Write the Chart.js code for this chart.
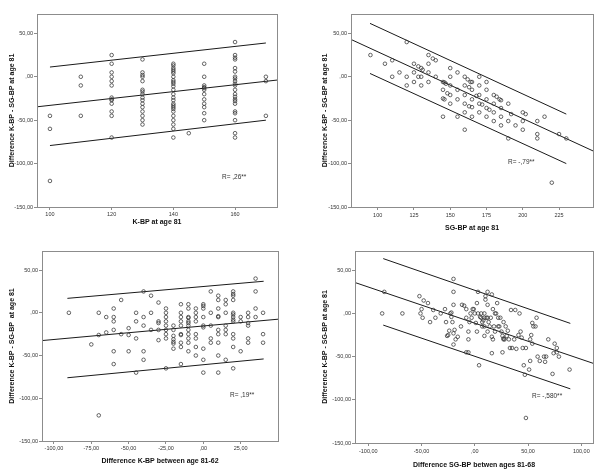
<!DOCTYPE html>
<html>
<head>
<meta charset="utf-8">
<script src="https://cdn.jsdelivr.net/npm/chart.js@4.4.1/dist/chart.umd.min.js"></script>
<style>
  body { margin: 0; background: #fff; }
  #wrap { position: relative; width: 600px; height: 472px; background: #fff; }
  canvas { position: absolute; }
</style>
</head>
<body>
<div id="wrap">
  <canvas id="c1" width="300" height="236" style="left:0;top:0"></canvas>
  <canvas id="c2" width="300" height="236" style="left:300px;top:0"></canvas>
  <canvas id="c3" width="300" height="236" style="left:0;top:236px"></canvas>
  <canvas id="c4" width="300" height="236" style="left:300px;top:236px"></canvas>
</div>
<script>
// Tick values shared by all panels (difference K-BP - SG-BP)
const diffTicks = [-150, -100, -50, 0, 50];

// Panel 1: K-BP at age 81 vs difference
const kbpTicks = [100, 120, 140, 160];
const kbpPoints = [
  [100,-45],[100,-60],[100,-120],
  [110,0],[110,-10],[110,-45],
  [120,25],[120,15],[120,5],[120,0],[120,-5],[120,-10],[120,-24],[120,-26],[120,-27],[120,-31],[120,-40],[120,-45],[120,-70],
  [130,20],[130,5],[130,2],[130,0],[130,-5],[130,-15],[130,-17],[130,-20],[130,-24],[130,-27],[130,-31],[130,-35],[130,-40],[130,-45],[130,-50],[130,-55],
  [140,15],[140,13],[140,10],[140,8],[140,6],[140,4],[140,0],[140,-4],[140,-6],[140,-8],[140,-11],[140,-15],[140,-20],[140,-24],[140,-27],[140,-31],[140,-33],[140,-35],[140,-37],[140,-40],[140,-45],[140,-50],[140,-55],[140,-60],[140,-70],
  [145,-65],
  [150,15],[150,0],[150,-10],[150,-12],[150,-13],[150,-15],[150,-20],[150,-26],[150,-31],[150,-35],[150,-42],[150,-50],
  [160,40],[160,25],[160,22],[160,20],[160,10],[160,6],[160,0],[160,-2],[160,-5],[160,-8],[160,-10],[160,-15],[160,-20],[160,-23],[160,-26],[160,-28],[160,-31],[160,-40],[160,-42],[160,-50],[160,-65],[160,-70],
  [170,0],[170,-5],[170,-45]
];
const kbpFit = [[95.8,-34.6],[173.6,-3.8]];
const kbpUpper = [[100,11.2],[170,38.9]];
const kbpLower = [[100,-79.2],[170,-50]];

// Panel 2: SG-BP at age 81 vs difference
const sgbpTicks = [100, 125, 150, 175, 200, 225];
const sgbpPoints = [
  [95,25],[105,15],[110,19],[120,40],[115,5],[110,0],[120,0],[120,-10],
  [125,15],[125,5],[125,-6],[128,12],[130,10],[131,8],[128,0],[130,0],[130,-10],
  [135,25],[135,15],[135,5],[135,-6],[138,21],[140,19],[140,0],
  [145,-6],[146,-6.5],[147,-8],[145,-15],[145,-25],[146,-26],[145,-46],[148,-19],
  [150,10],[150,0],[150,-10],[150,-21],[150,-31],
  [155,5],[155,-15],[155,-26],[155,-46],
  [160,0],[160,-10],[160,-21],[160,-31],[160,-41],[160,-61],[162,-3],[163,-12],[164,-6],[165,-6],[165,-15],[165,-26],[165,-35],[165,-46],[163,-34],[168,-22],
  [170,0],[170,-10],[170,-21],[170,-31],[170,-41],[172,-32],
  [175,-6],[175,-15],[175,-26],[175,-36],[175,-46],[177,-38],
  [180,-21],[180,-31],[180,-41],[180,-51],[182,-23],[184,-26],[185,-27],[185,-36],[185,-46],[185,-56],
  [190,-31],[190,-51],[190,-71],[192,-43],[195,-56],
  [200,-41],[202,-43],[200,-51],[200,-61],
  [210,-51],[210,-66],[210,-71],[215,-46],[220,-122],[225,-66],[230,-71]
];
const sgbpFit = [[81.6,43],[248.4,-85.4]];
const sgbpUpper = [[94.7,61.5],[230,-43]];
const sgbpLower = [[94.7,3.8],[230,-100]];

// Panel 3: difference K-BP between age 81-62 vs difference
const kbpChangeTicks = [-100, -75, -50, -25, 0, 25];
const kbpChangePoints = [
  [-90,0],[-75,-37],[-70,0],[-70,-26],[-70,-120],[-65,-5],[-65,-23],
  [-60,5],[-60,-5],[-60,-10],[-60,-20],[-60,-45],[-60,-60],[-55,15],[-55,-25],
  [-50,-18],[-50,-26],[-50,-45],[-45,0],[-45,-10],[-45,-30],[-45,-70],
  [-40,25],[-40,-5],[-40,-15],[-40,-45],[-40,-55],[-35,20],[-35,0],[-35,-20],
  [-30,12],[-30,-10],[-30,-12],[-30,-20],[-30,-32],
  [-25,5],[-25,0],[-25,-5],[-25,-10],[-25,-15],[-25,-20],[-25,-25],[-25,-30],[-25,-65],
  [-20,-15],[-20,-20],[-20,-27],[-20,-31],[-20,-34],[-20,-36],[-20,-42],
  [-15,10],[-15,0],[-15,-5],[-15,-10],[-15,-15],[-15,-25],[-15,-26],[-15,-35],[-15,-40],[-15,-60],
  [-10,10],[-10,5],[-10,-5],[-10,-6],[-10,-10],[-10,-12],[-10,-15],[-10,-20],[-10,-25],[-10,-30],[-10,-35],[-10,-45],
  [-5,5],[-5,0],[-5,-5],[-5,-10],[-5,-25],[-5,-30],[-5,-40],[-5,-50],
  [0,10],[0,8],[0,5],[0,-5],[0,-15],[0,-17],[0,-42],[0,-55],[0,-70],
  [5,25],[5,0],[5,-15],[5,-30],[5,-35],
  [10,20],[10,15],[10,5],[10,-4],[10,-5],[10,-20],[10,-25],[10,-35],[10,-50],[10,-70],
  [15,15],[15,10],[15,0],[15,-15],[15,-20],[15,-25],[15,-55],
  [20,25],[20,22],[20,20],[20,15],[20,0],[20,-2],[20,-5],[20,-8],[20,-10],[20,-25],[20,-30],[20,-40],[20,-65],
  [25,-5],[25,-10],[25,-45],
  [30,0],[30,-5],[30,-12],[30,-15],[30,-30],[30,-35],
  [35,40],[35,25],[35,5],[35,-5],
  [40,0],[40,-25],[40,-35]
];
const kbpChangeFit = [[-108,-32.5],[50,-7.5]];
const kbpChangeUpper = [[-91,16.9],[40.4,36.9]];
const kbpChangeLower = [[-91,-76],[40.4,-54]];

// Panel 4: difference SG-BP between ages 81-68 vs difference
const sgbpChangeTicks = [-100, -50, 0, 50, 100];
const sgbpChangePoints = [
  [-87,0],[-85,25],[-68,0],[-52,20],[-51,0],[-50,5],[-49,-5],[-48,15],[-44,12],[-42,-10],[-39,4],[-37,-5],
  [-32,0],[-28,5],[-27,-10],[-26,-26],[-25,-25],[-24,-20],[-23,0],[-22,1],[-22,-4],[-21,-10],[-20,-36],
  [-20,25],[-20,40],[-20,10],[-20,-23],[-19,-19],[-18,-30],[-16,-27],[-13,-15],[-12,10],[-10,9],
  [-8,5],[-8,-5],[-8,-45],[-6,-45],[-6,-30],[-6,-21],[-5,-10],[-4,0],[-3,-5],[-2,5],[-1,5],
  [0,0],[1,-11],[2,-21],[2,12],[3,0],[3,25],[4,-60],[5,-4],[6,0],[6,-5],[7,-10],[7,-15],[8,-8],
  [9,-5],[9,0],[9,-15],[9,-26],[10,16],[10,20],[11,-5],[12,-21],[12,-5],[12,25],[12,10],[13,-10],
  [14,-15],[15,-5],[16,22],[16,-27],[16,-46],[17,5],[17,-30],[18,-15],[19,0],[19,-21],[20,0],[21,12],
  [22,-15],[22,-5],[23,-15],[24,-5],[25,-21],[26,-45],[26,-26],[27,-10],[27,-30],[27,-29],[28,-30],
  [29,-15],[30,-26],[31,-20],[32,-30],[33,-40],[34,4],[35,-40],[37,-30],[38,4],[39,-41],[41,-25],
  [42,0],[43,-21],[44,-28],[45,-40],[46,-60],[47,-71],[48,-121],[48,-40],[51,-65],[52,-55],[52,-30],
  [53,-25],[54,-35],[54,-11],[55,-15],[57,-15],[58,-5],[59,-50],[61,-55],[65,-50],[66,-56],[67,-50],
  [69,-30],[73,-70],[74,-46],[75,-35],[77,-40],[77,-45],[79,-50],[89,-65]
];
const sgbpChangeFit = [[-112.5,35.8],[111,-57.7]];
const sgbpChangeUpper = [[-86,63.5],[89.7,-11.5]];
const sgbpChangeLower = [[-86,-13.5],[89.7,-87.3]];

// Formats a value the way SPSS prints it here ("50,00", ",00")
function formatComma(v) {
  if (v === 0) return ',00';
  return v.toFixed(2).replace('.', ',');
}

// Draws the frame round the plot area and the R text
const framePlugin = {
  id: 'frame',
  afterDatasetsDraw(chart, args, opts) {
    const ctx = chart.ctx;
    const a = chart.chartArea;
    ctx.save();
    ctx.strokeStyle = '#8c8c8c';
    ctx.lineWidth = 1;
    ctx.strokeRect(Math.round(a.left) + 0.5, Math.round(a.top) + 0.5,
      Math.round(a.right - a.left), Math.round(a.bottom - a.top));
    ctx.font = '6.5px "Liberation Sans", Arial, sans-serif';
    ctx.fillStyle = '#333';
    ctx.textBaseline = 'middle';
    ctx.fillText(opts.text, opts.x, opts.y);
    ctx.restore();
  }
};

const toXY = pts => pts.map(([x, y]) => ({ x, y }));

// Builds one scatter panel with its fit line and the two bands
function makePanel(id, p) {
  const line = pts => ({
    data: toXY(pts), showLine: true, pointRadius: 0,
    borderColor: '#1a1a1a', borderWidth: 1, fill: false
  });
  const tickFont = { family: '"Liberation Sans", Arial, sans-serif', size: 5.5 };
  const titleFont = { family: '"Liberation Sans", Arial, sans-serif', size: 7, weight: 'bold' };
  const grid = { display: true, drawOnChartArea: false, drawTicks: true, tickLength: 3, color: '#8c8c8c' };

  new Chart(document.getElementById(id), {
    type: 'scatter',
    data: {
      datasets: [
        {
          data: toXY(p.points), pointRadius: 1.8, pointBorderWidth: 0.75,
          borderColor: '#333', backgroundColor: 'rgba(255,255,255,0)'
        },
        line(p.fit), line(p.upper), line(p.lower)
      ]
    },
    options: {
      responsive: false,
      animation: false,
      layout: { padding: { top: p.area.top, right: 300 - p.area.right, left: 0, bottom: 0 } },
      plugins: {
        legend: { display: false },
        tooltip: { enabled: false },
        frame: p.r
      },
      scales: {
        x: {
          type: 'linear', min: p.xMin, max: p.xMax,
          afterBuildTicks: s => { s.ticks = p.xTicks.map(v => ({ value: v })); },
          afterFit: s => { s.height = 236 - p.area.bottom; },
          border: { display: false },
          grid: grid,
          ticks: { font: tickFont, color: '#333', padding: p.xTickPad, maxRotation: 0, callback: p.xFormat },
          title: { display: true, text: p.xTitle, font: titleFont, color: '#111', padding: { top: 0, bottom: p.xTitlePad } }
        },
        y: {
          type: 'linear', min: -150, max: 72.3,
          afterBuildTicks: s => { s.ticks = diffTicks.map(v => ({ value: v })); },
          afterFit: s => { s.width = p.area.left; },
          border: { display: false },
          grid: grid,
          ticks: { font: tickFont, color: '#333', padding: 1, callback: formatComma },
          title: { display: true, text: p.yTitle, font: titleFont, color: '#111', padding: { top: p.yTitlePad, bottom: 0 } }
        }
      }
    },
    plugins: [framePlugin]
  });
}

const yTitle = 'Difference K-BP - SG-BP at age 81';

makePanel('c1', {
  points: kbpPoints, fit: kbpFit, upper: kbpUpper, lower: kbpLower,
  xTicks: kbpTicks, xMin: 95.8, xMax: 173.6, xFormat: v => String(v),
  area: { left: 37, top: 14, right: 277, bottom: 207 },
  xTitle: 'K-BP at age 81', yTitle: yTitle, xTitlePad: 10, yTitlePad: 8, xTickPad: 1,
  r: { text: 'R= ,26**', x: 222, y: 177 }
});

makePanel('c2', {
  points: sgbpPoints, fit: sgbpFit, upper: sgbpUpper, lower: sgbpLower,
  xTicks: sgbpTicks, xMin: 81.6, xMax: 248.4, xFormat: v => String(v),
  area: { left: 51, top: 14, right: 293, bottom: 207 },
  xTitle: 'SG-BP at age 81', yTitle: yTitle, xTitlePad: 4, yTitlePad: 21, xTickPad: 2,
  r: { text: 'R= -,79**', x: 208, y: 162 }
});

makePanel('c3', {
  points: kbpChangePoints, fit: kbpChangeFit, upper: kbpChangeUpper, lower: kbpChangeLower,
  xTicks: kbpChangeTicks, xMin: -108, xMax: 50, xFormat: formatComma,
  area: { left: 42, top: 15, right: 278, bottom: 205 },
  xTitle: 'Difference K-BP between age 81-62', yTitle: 'Difference K-BP - SG-BP  at age 81',
  xTitlePad: 7, yTitlePad: 8, xTickPad: 1,
  r: { text: 'R= ,19**', x: 230, y: 159 }
});

makePanel('c4', {
  points: sgbpChangePoints, fit: sgbpChangeFit, upper: sgbpChangeUpper, lower: sgbpChangeLower,
  xTicks: sgbpChangeTicks, xMin: -112.5, xMax: 111, xFormat: formatComma,
  area: { left: 55, top: 15, right: 293, bottom: 207 },
  xTitle: 'Difference SG-BP betwen ages 81-68', yTitle: yTitle, xTitlePad: 3, yTitlePad: 21, xTickPad: 2,
  r: { text: 'R= -,580**', x: 232, y: 160 }
});
</script>
</body>
</html>
